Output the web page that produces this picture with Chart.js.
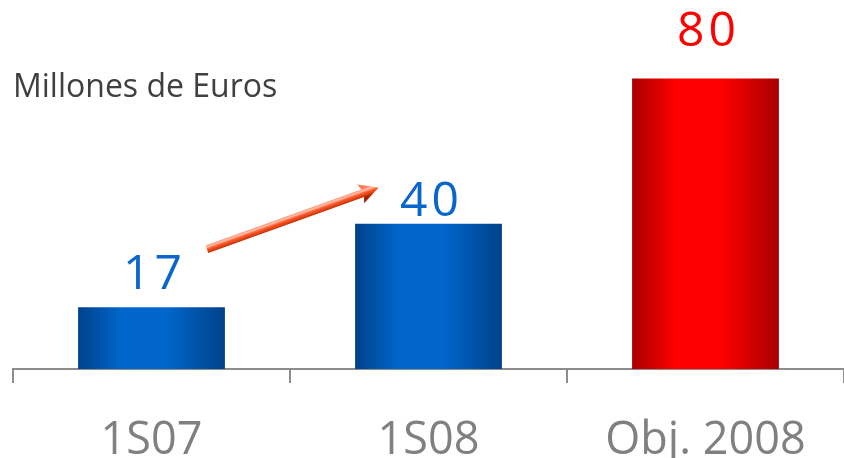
<!DOCTYPE html>
<html>
<head>
<meta charset="utf-8">
<script src="https://cdn.jsdelivr.net/npm/chart.js@4/dist/chart.umd.min.js"></script>
<style>
  html, body { margin: 0; padding: 0; background: #fff; }
  #wrap { width: 844px; height: 458px; position: relative; }
</style>
</head>
<body>
<div id="wrap"><canvas id="chart" width="844" height="458"></canvas></div>
<script>
// chart data
const categories = ['1S07', '1S08', 'Obj. 2008'];
const values = [17, 40, 80];
const unitLabel = 'Millones de Euros';
// growth arrow anchors, as [category index, value]
const arrowFrom = [0.2, 33];
const arrowTo = [0.82, 50];

const blueDark = '#00428a', blueLight = '#0066cc';
const redDark = '#a80000', redLight = '#ff0000';
const labelColors = ['#0a66cc', '#0a66cc', '#ff0000'];
const labelOffsets = [18, 8, 33];

function barGradient(ctx, bar, dark, light) {
    const g = ctx.createLinearGradient(bar.x - bar.width / 2, 0, bar.x + bar.width / 2, 0);
    g.addColorStop(0, dark);
    g.addColorStop(0.3, light);
    g.addColorStop(0.6, light);
    g.addColorStop(1, dark);
    return g;
}

const extrasPlugin = {
    id: 'extras',
    afterDatasetsDraw(chart) {
        const ctx = chart.ctx;
        const x = chart.scales.x, y = chart.scales.y;
        const meta = chart.getDatasetMeta(0);

        // value labels above bars
        ctx.save();
        ctx.font = '48px "Open Sans"';
        ctx.letterSpacing = '4px';
        ctx.textAlign = 'center';
        ctx.textBaseline = 'alphabetic';
        meta.data.forEach((bar, i) => {
            ctx.fillStyle = labelColors[i];
            ctx.fillText(String(values[i]), bar.x + 3, bar.y - labelOffsets[i]);
        });
        ctx.restore();

        // unit label
        ctx.save();
        ctx.font = '32px "Open Sans"';
        ctx.fillStyle = '#404040';
        ctx.textBaseline = 'alphabetic';
        ctx.fillText(unitLabel, chart.chartArea.left, 97);
        ctx.restore();

        // growth arrow
        const step = x.getPixelForValue(1) - x.getPixelForValue(0);
        const x0 = x.getPixelForValue(0) + arrowFrom[0] * step, y0 = y.getPixelForValue(arrowFrom[1]);
        const x1 = x.getPixelForValue(0) + arrowTo[0] * step, y1 = y.getPixelForValue(arrowTo[1]);
        const ang = Math.atan2(y1 - y0, x1 - x0);
        const len = Math.hypot(x1 - x0, y1 - y0);
        ctx.save();
        ctx.translate(x0, y0);
        ctx.rotate(ang);
        const g = ctx.createLinearGradient(0, -5, 0, 5);
        g.addColorStop(0, '#ff7a5a');
        g.addColorStop(0.3, '#ffc0a8');
        g.addColorStop(0.5, '#ff5a30');
        g.addColorStop(0.75, '#e04010');
        g.addColorStop(1, '#a02000');
        ctx.fillStyle = g;
        ctx.beginPath();
        ctx.moveTo(0, -4);
        ctx.lineTo(len - 17, -4);
        ctx.lineTo(len - 19, -10);
        ctx.lineTo(len, 0);
        ctx.lineTo(len - 19, 10);
        ctx.lineTo(len - 17, 4);
        ctx.lineTo(0, 4);
        ctx.closePath();
        ctx.fill();
        ctx.restore();
    }
};

const chart = new Chart(document.getElementById('chart'), {
    type: 'bar',
    data: {
        labels: categories,
        datasets: [{
            data: values,
            backgroundColor: (c) => {
                const bar = c.element;
                if (!bar || !Number.isFinite(bar.x) || !Number.isFinite(bar.width)) {
                    return c.dataIndex === 2 ? redLight : blueLight;
                }
                return c.dataIndex === 2
                    ? barGradient(c.chart.ctx, bar, redDark, redLight)
                    : barGradient(c.chart.ctx, bar, blueDark, blueLight);
            },
            borderWidth: 0,
            barPercentage: 0.53,
            categoryPercentage: 1
        }]
    },
    options: {
        responsive: false,
        animation: false,
        layout: { padding: { left: 13, right: 0, top: 6, bottom: 0 } },
        plugins: {
            legend: { display: false },
            tooltip: { enabled: false }
        },
        scales: {
            x: {
                grid: {
                    offset: true,
                    drawOnChartArea: false,
                    color: '#8c8c8c',
                    lineWidth: 2,
                    tickLength: 14
                },
                border: { color: '#8c8c8c', width: 2 },
                ticks: {
                    color: '#808080',
                    font: { family: 'Open Sans', size: 45 },
                    padding: 31,
                    maxRotation: 0
                },
                afterFit(scale) { scale.height = 89; }
            },
            y: {
                display: false,
                min: 0,
                max: 100
            }
        }
    },
    plugins: [extrasPlugin]
});
// gradients need the final bar geometry, so redraw once laid out
chart.update();
</script>
</body>
</html>
